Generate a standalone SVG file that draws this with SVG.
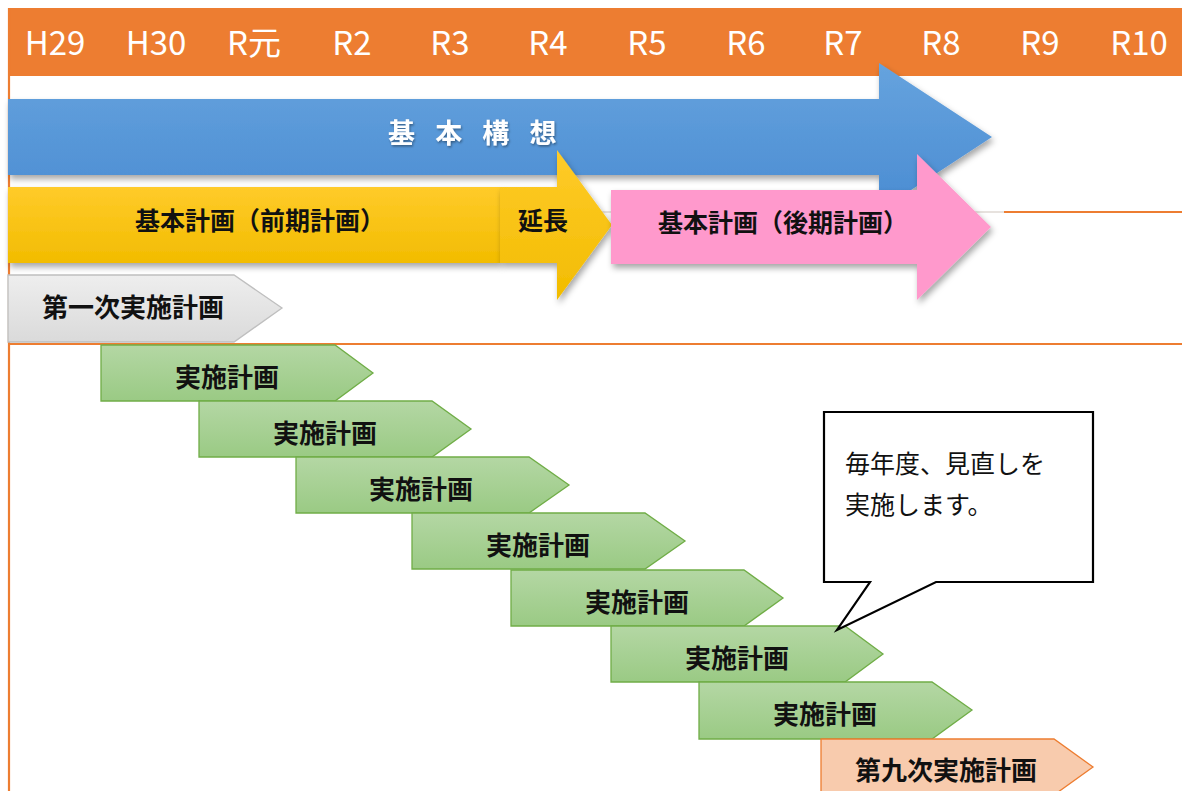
<svg xmlns="http://www.w3.org/2000/svg" width="1182" height="791" viewBox="0 0 1182 791">
  <style>
    text { font-family: "Noto Sans CJK JP", "Noto Sans", sans-serif; }
    .yr { fill: #ffffff; font-size: 33px; font-weight: normal; text-anchor: middle; }
    .lbl { fill: #111111; font-size: 25px; font-weight: bold; text-anchor: middle; }
    .plan { fill: #111111; font-size: 26px; font-weight: bold; text-anchor: middle; }
    .green { fill: url(#gGreen); stroke: #70AD47; stroke-width: 1.3; }
    .axis { stroke: #ED7D31; stroke-width: 2.2; fill: none; }
  </style>
  <defs>
    <linearGradient id="gBlue" x1="0" y1="0" x2="0" y2="1">
      <stop offset="0" stop-color="#66A3DE"/>
      <stop offset="1" stop-color="#4A8CD2"/>
    </linearGradient>
    <linearGradient id="gYellow" x1="0" y1="0" x2="0" y2="1">
      <stop offset="0" stop-color="#FFCB2A"/>
      <stop offset="1" stop-color="#F2BC00"/>
    </linearGradient>
    <linearGradient id="gGreen" x1="0" y1="0" x2="0" y2="1">
      <stop offset="0" stop-color="#B4D7A4"/>
      <stop offset="1" stop-color="#9ACA84"/>
    </linearGradient>
    <linearGradient id="gGray" x1="0" y1="0" x2="0" y2="1">
      <stop offset="0" stop-color="#EEEEEE"/>
      <stop offset="1" stop-color="#DADADA"/>
    </linearGradient>
    <filter id="sh" x="-10%" y="-20%" width="130%" height="150%">
      <feDropShadow dx="2" dy="4" stdDeviation="3" flood-color="#000" flood-opacity="0.35"/>
    </filter>
    <filter id="tsh" x="-10%" y="-30%" width="120%" height="160%">
      <feDropShadow dx="1" dy="1.5" stdDeviation="1" flood-color="#000" flood-opacity="0.4"/>
    </filter>
  </defs>

  <rect x="0" y="0" width="1182" height="791" fill="#ffffff"/>

  <g id="header">
    <rect x="8" y="8" width="1174" height="68" fill="#ED7D31"/>
    <text class="yr" x="55" y="55">H29</text>
    <text class="yr" x="156" y="55">H30</text>
    <text class="yr" x="254" y="55">R元</text>
    <text class="yr" x="352" y="55">R2</text>
    <text class="yr" x="450" y="55">R3</text>
    <text class="yr" x="548" y="55">R4</text>
    <text class="yr" x="647" y="55">R5</text>
    <text class="yr" x="746" y="55">R6</text>
    <text class="yr" x="843" y="55">R7</text>
    <text class="yr" x="941" y="55">R8</text>
    <text class="yr" x="1040" y="55">R9</text>
    <text class="yr" x="1139" y="55">R10</text>
  </g>

  <g id="grid">
    <line class="axis" x1="9" y1="8" x2="9" y2="791"/>
    <line class="axis" x1="1004" y1="212" x2="1182" y2="212"/>
    <line x1="595" y1="212" x2="1004" y2="212" stroke="#CFC6BD" stroke-width="1.2"/>
    <line class="axis" x1="8" y1="344" x2="1182" y2="344"/>
  </g>

  <g id="kihon-koso">
    <polygon points="8,99 879,99 879,63 992,137 879,211 879,175 8,175" fill="url(#gBlue)" filter="url(#sh)"/>
    <text x="388" y="143" fill="#ffffff" font-size="27" font-weight="bold" letter-spacing="7" filter="url(#tsh)">基 本 構 想</text>
  </g>

  <g id="zenki">
    <rect x="8" y="187" width="492" height="76" fill="url(#gYellow)" filter="url(#sh)"/>
    <text class="lbl" x="260" y="230">基本計画（前期計画）</text>
  </g>

  <g id="encho">
    <polygon points="500,187 557,187 557,150 612,225 557,300 557,263 500,263" fill="url(#gYellow)" filter="url(#sh)"/>
    <text class="lbl" x="543" y="230">延長</text>
  </g>

  <g id="koki">
    <polygon points="611,190 917,190 917,154 991,227 917,300 917,264 611,264" fill="#FF99CC" filter="url(#sh)"/>
    <text class="lbl" x="783" y="232">基本計画（後期計画）</text>
  </g>

  <g id="plan1">
    <polygon points="8,275 234,275 282,308 234,342 8,342" fill="url(#gGray)" stroke="#BFBFBF" stroke-width="1.3"/>
    <text class="plan" x="133" y="317" font-size="26.5">第一次実施計画</text>
  </g>

  <g id="plan2">
    <polygon class="green" points="101,345 335,345 373,373 335,401 101,401"/>
    <text class="plan" x="227" y="387">実施計画</text>
  </g>
  <g id="plan3">
    <polygon class="green" points="199,401 432,401 471,429 432,457 199,457"/>
    <text class="plan" x="325" y="443">実施計画</text>
  </g>
  <g id="plan4">
    <polygon class="green" points="296,457 529,457 569,485 529,513 296,513"/>
    <text class="plan" x="421" y="499">実施計画</text>
  </g>
  <g id="plan5">
    <polygon class="green" points="412,513 645,513 685,541 645,569 412,569"/>
    <text class="plan" x="538" y="555">実施計画</text>
  </g>
  <g id="plan6">
    <polygon class="green" points="511,570 744,570 783,598 744,626 511,626"/>
    <text class="plan" x="637" y="612">実施計画</text>
  </g>
  <g id="plan7">
    <polygon class="green" points="611,626 845,626 883,654 845,682 611,682"/>
    <text class="plan" x="737" y="668">実施計画</text>
  </g>
  <g id="plan8">
    <polygon class="green" points="699,682 932,682 972,710 932,739 699,739"/>
    <text class="plan" x="825" y="724">実施計画</text>
  </g>
  <g id="plan9">
    <polygon points="821,739 1054,739 1093,767 1054,795 821,795" fill="#F8CBAD" stroke="#ED7D31" stroke-width="1.3"/>
    <text class="plan" x="946" y="780">第九次実施計画</text>
  </g>

  <g id="callout">
    <path d="M824,412 H1093 V582 H936 L837,630 L870,582 H824 Z" fill="#ffffff" stroke="#000000" stroke-width="2.2" stroke-linejoin="miter"/>
    <text x="845" y="473" font-size="25" fill="#111111">毎年度、見直しを</text>
    <text x="845" y="514" font-size="25" fill="#111111">実施します。</text>
  </g>
</svg>
